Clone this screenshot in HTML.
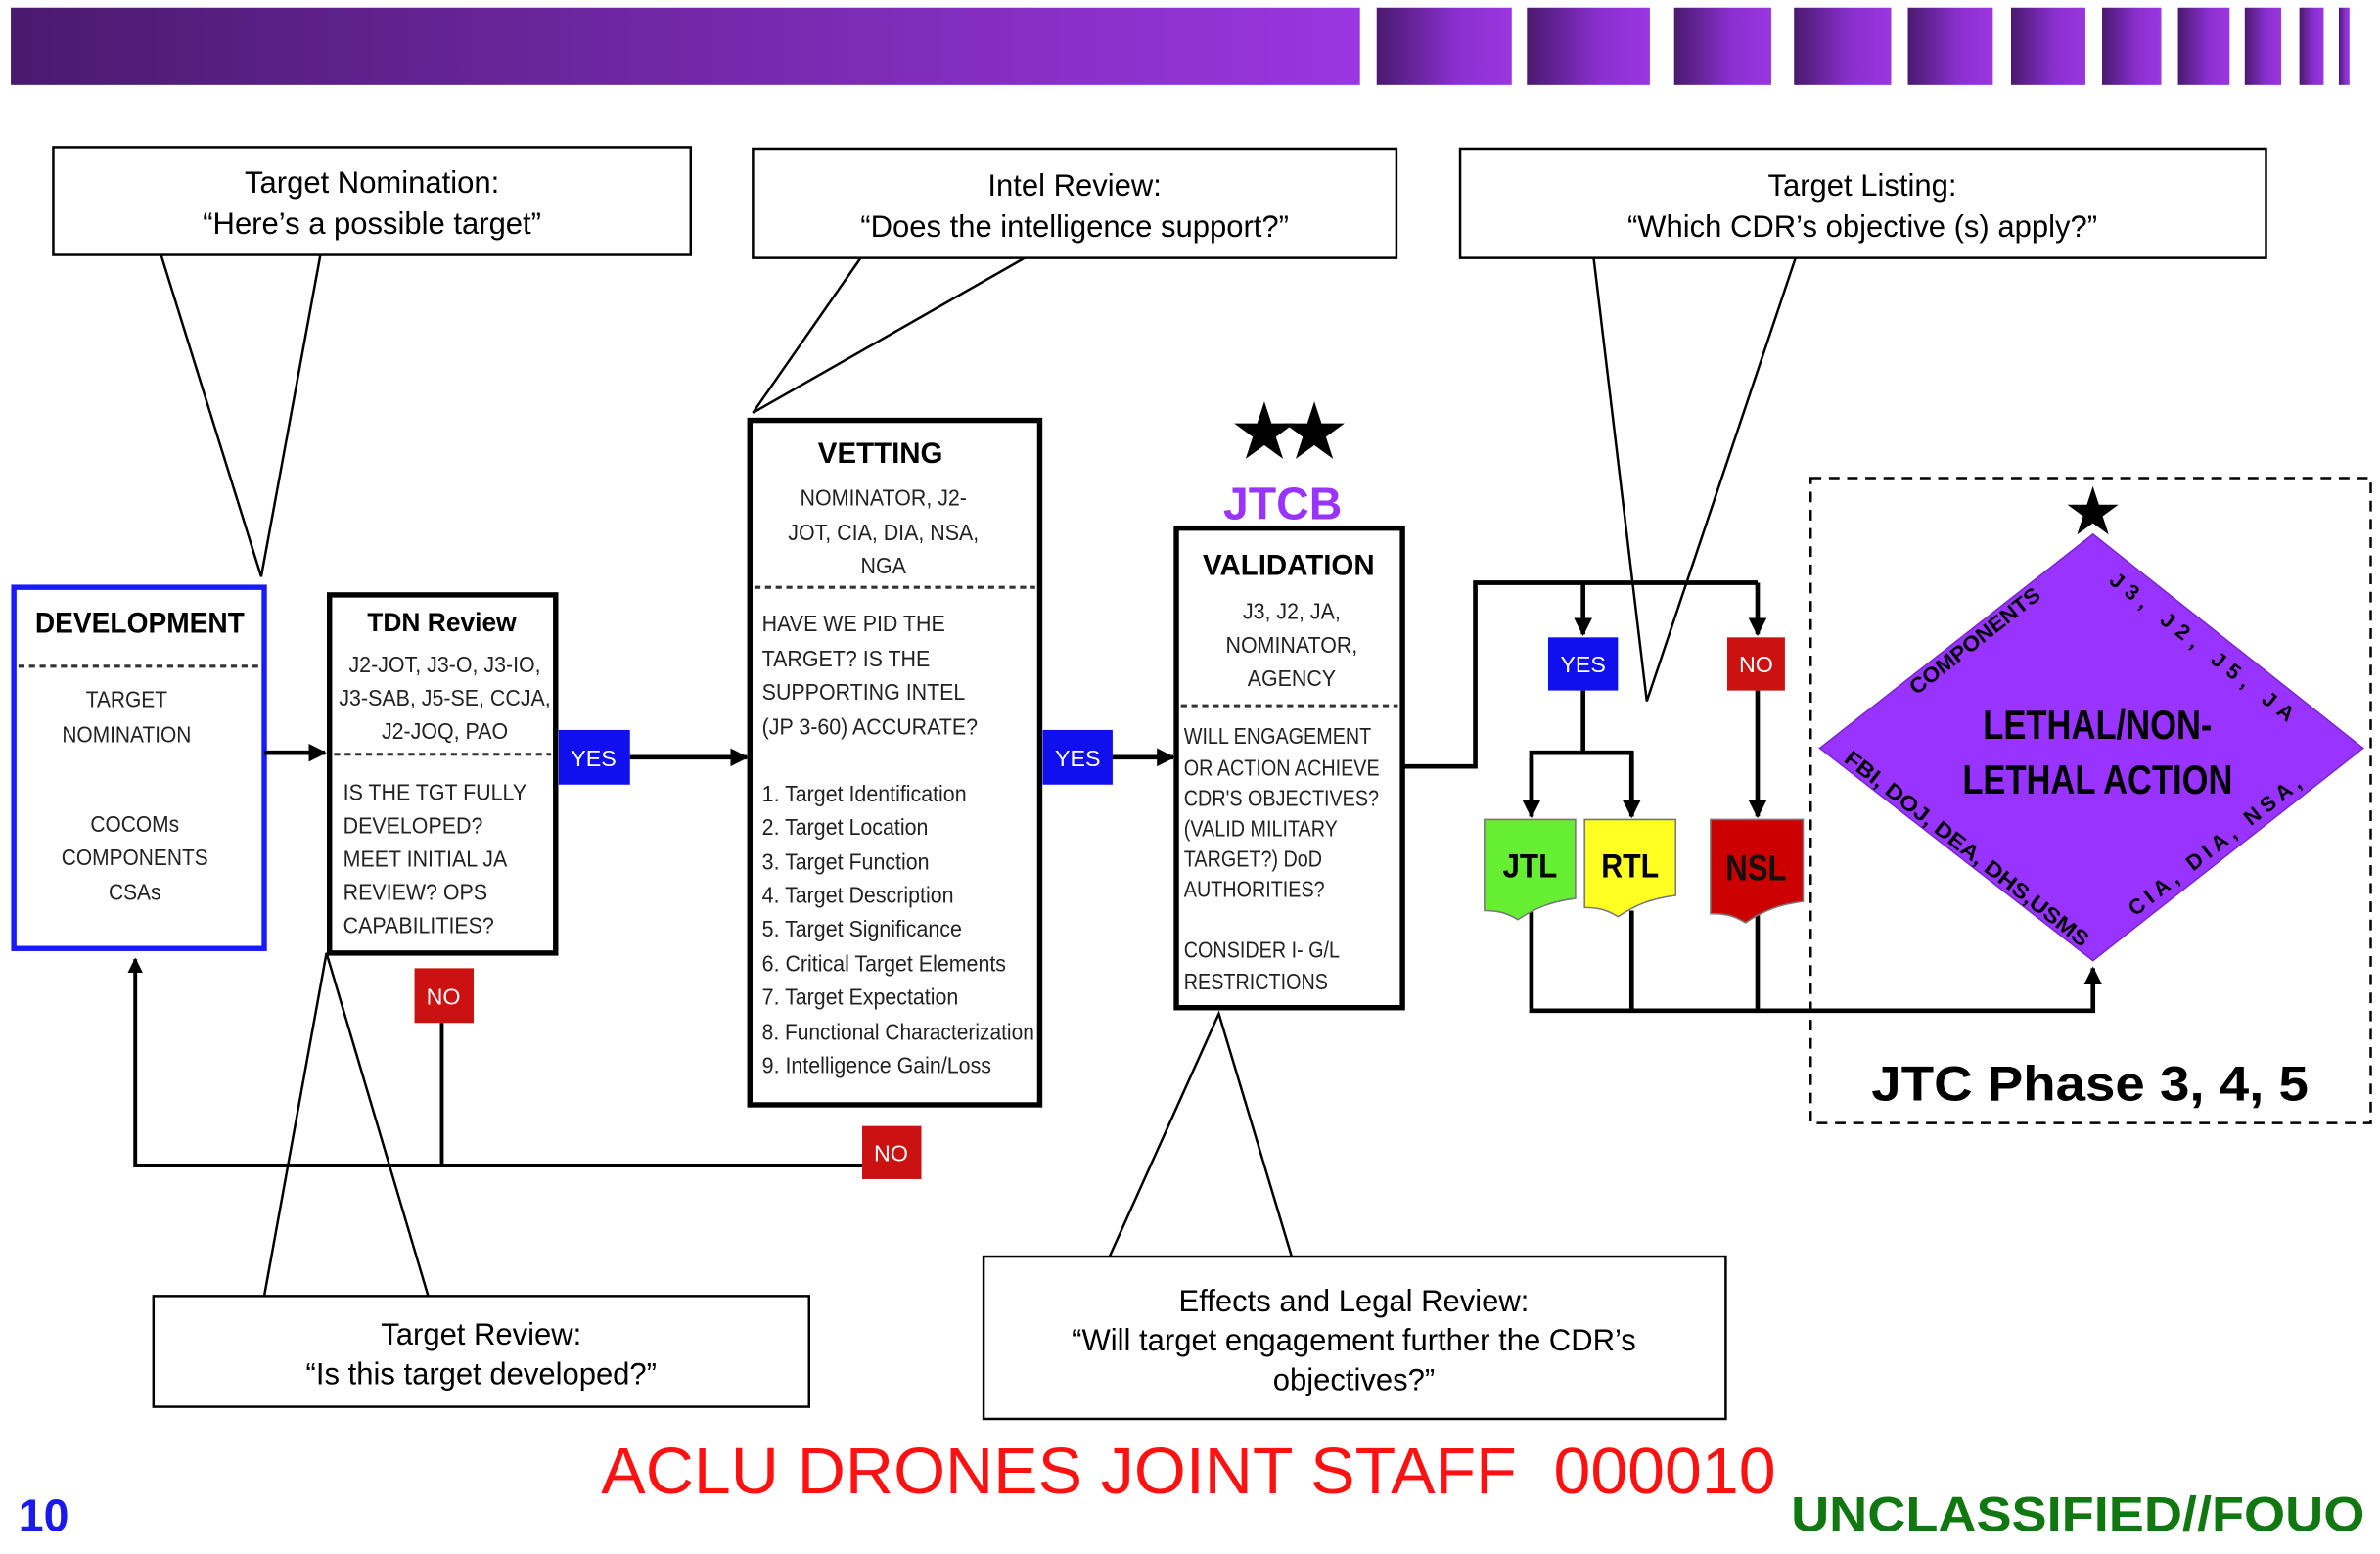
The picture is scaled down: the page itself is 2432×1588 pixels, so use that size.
<!DOCTYPE html>
<html><head><meta charset="utf-8"><style>
html,body{margin:0;padding:0;background:#fff;}
svg{display:block;}
text{font-family:"Liberation Sans",sans-serif;}
.n{font-family:"Liberation Sans Narrow","Liberation Sans",sans-serif;font-size:15px;fill:#222;}
.c{font-size:20px;fill:#000;text-anchor:middle;}
.b{font-family:"Liberation Sans Narrow","Liberation Sans",sans-serif;font-weight:bold;fill:#000;}
.lbl{font-family:"Liberation Sans Narrow","Liberation Sans",sans-serif;font-size:15px;fill:#fff;text-anchor:middle;}
</style></head><body>
<svg width="2432" height="1588" viewBox="0 0 1568 1024" xmlns="http://www.w3.org/2000/svg">
<defs>
<linearGradient id="g1" x1="0" x2="1" y1="0" y2="0"><stop offset="0" stop-color="#4a1a6e"/><stop offset="1" stop-color="#9a36e0"/></linearGradient>
<linearGradient id="g2" x1="0" x2="1" y1="0" y2="0"><stop offset="0" stop-color="#4a1a6e"/><stop offset="0.6" stop-color="#8a30d0"/><stop offset="1" stop-color="#9a36e0"/></linearGradient>
<marker id="ar" viewBox="0 0 10 10" refX="9" refY="5" markerWidth="4" markerHeight="4" orient="auto"><path d="M0,0L10,5L0,10z" fill="#000"/></marker>
</defs>
<rect x="7" y="5" width="889" height="51" fill="url(#g1)"/>
<g fill="url(#g2)">
<rect x="907" y="5" width="89" height="51"/><rect x="1006" y="5" width="81" height="51"/>
<rect x="1103" y="5" width="64" height="51"/><rect x="1182" y="5" width="64" height="51"/>
<rect x="1257" y="5" width="56" height="51"/><rect x="1325" y="5" width="49" height="51"/>
<rect x="1385" y="5" width="39" height="51"/><rect x="1435" y="5" width="34" height="51"/>
<rect x="1479" y="5" width="24" height="51"/><rect x="1515" y="5" width="16" height="51"/>
<rect x="1541" y="5" width="7" height="51"/>
</g>

<g fill="#fff" stroke="#000" stroke-width="1.6">
<rect x="35" y="97" width="420" height="71"/>
<rect x="496" y="98" width="424" height="72"/>
<rect x="962" y="98" width="531" height="72"/>
<rect x="101" y="854" width="432" height="73"/>
<rect x="648" y="828" width="489" height="107"/>
</g>
<g fill="none" stroke="#000" stroke-width="1.6">
<polyline points="106,168 172,380 211,168"/>
<polyline points="567,170 496,272 675,170"/>
<polyline points="1050,170 1085,462 1183,170"/>
<polyline points="174,854 215,628 282,854"/>
<polyline points="731,828 803,668 851,828"/>
</g>
<text class="c" x="245" y="127">Target Nomination:</text>
<text class="c" x="245" y="154">“Here’s a possible target”</text>
<text class="c" x="708" y="129">Intel Review:</text>
<text class="c" x="708" y="156">“Does the intelligence support?”</text>
<text class="c" x="1227" y="129">Target Listing:</text>
<text class="c" x="1227" y="156">“Which CDR’s objective (s) apply?”</text>
<text class="c" x="317" y="886">Target Review:</text>
<text class="c" x="317" y="912">“Is this target developed?”</text>
<text class="c" x="892" y="864">Effects and Legal Review:</text>
<text class="c" x="892" y="890">“Will target engagement further the CDR’s</text>
<text class="c" x="892" y="916">objectives?”</text>

<!-- DEVELOPMENT -->
<rect x="9" y="387" width="165" height="238" fill="#fff" stroke="#1a1aff" stroke-width="3.5"/>
<text class="b" x="92" y="417" font-size="19" text-anchor="middle" textLength="138" lengthAdjust="spacingAndGlyphs">DEVELOPMENT</text>
<line x1="12" y1="439" x2="171" y2="439" stroke="#333" stroke-width="2" stroke-dasharray="4,3"/>
<g transform="translate(86,0) scale(0.9,1) translate(-86,0)">
<text class="n" x="83" y="466" text-anchor="middle">TARGET</text>
<text class="n" x="83" y="489" text-anchor="middle">NOMINATION</text>
<text class="n" x="89" y="548" text-anchor="middle">COCOMs</text>
<text class="n" x="89" y="570" text-anchor="middle">COMPONENTS</text>
<text class="n" x="89" y="593" text-anchor="middle">CSAs</text>
</g>
<line x1="174" y1="496" x2="214" y2="496" stroke="#000" stroke-width="3" marker-end="url(#ar)"/>

<!-- TDN -->
<rect x="217" y="392" width="149" height="236" fill="#fff" stroke="#000" stroke-width="3.5"/>
<text class="b" x="291" y="416" font-size="17" text-anchor="middle" font-family="Liberation Sans">TDN Review</text>
<g transform="translate(293,0) scale(0.92,1) translate(-293,0)">
<text class="n" x="293" y="443" text-anchor="middle">J2-JOT, J3-O, J3-IO,</text>
<text class="n" x="293" y="465" text-anchor="middle">J3-SAB, J5-SE, CCJA,</text>
<text class="n" x="293" y="487" text-anchor="middle">J2-JOQ, PAO</text>
</g>
<line x1="220" y1="497" x2="363" y2="497" stroke="#333" stroke-width="2" stroke-dasharray="4,3"/>
<g transform="translate(226,0) scale(0.92,1) translate(-226,0)">
<text class="n" x="226" y="527">IS THE TGT FULLY</text>
<text class="n" x="226" y="549">DEVELOPED?</text>
<text class="n" x="226" y="571">MEET INITIAL JA</text>
<text class="n" x="226" y="593">REVIEW? OPS</text>
<text class="n" x="226" y="615">CAPABILITIES?</text>
</g>

<rect x="368" y="481" width="47" height="36" fill="#1010ee"/>
<text class="lbl" x="391" y="505">YES</text>
<line x1="415" y1="499" x2="492" y2="499" stroke="#000" stroke-width="3" marker-end="url(#ar)"/>

<rect x="273" y="638" width="39" height="36" fill="#cc1111"/>
<text class="lbl" x="292" y="662">NO</text>
<polyline points="291,674 291,768" fill="none" stroke="#000" stroke-width="2.5"/>
<polyline points="568,768 89,768 89,632" fill="none" stroke="#000" stroke-width="2.5" marker-end="url(#ar)"/>
<rect x="568" y="742" width="39" height="35" fill="#cc1111"/>
<text class="lbl" x="587" y="765">NO</text>

<!-- VETTING -->
<rect x="494" y="277" width="191" height="451" fill="#fff" stroke="#000" stroke-width="3.5"/>
<text class="b" x="580" y="305" font-size="19" text-anchor="middle">VETTING</text>
<g transform="translate(582,0) scale(0.92,1) translate(-582,0)">
<text class="n" x="582" y="333" text-anchor="middle">NOMINATOR, J2-</text>
<text class="n" x="582" y="356" text-anchor="middle">JOT, CIA, DIA, NSA,</text>
<text class="n" x="582" y="378" text-anchor="middle">NGA</text>
</g>
<line x1="497" y1="387" x2="682" y2="387" stroke="#333" stroke-width="2" stroke-dasharray="4,3"/>
<g transform="translate(502,0) scale(0.92,1) translate(-502,0)">
<text class="n" x="502" y="416">HAVE WE PID THE</text>
<text class="n" x="502" y="439">TARGET? IS THE</text>
<text class="n" x="502" y="461">SUPPORTING INTEL</text>
<text class="n" x="502" y="484">(JP 3-60) ACCURATE?</text>
<text class="n" x="502" y="528">1. Target Identification</text>
<text class="n" x="502" y="550">2. Target Location</text>
<text class="n" x="502" y="573">3. Target Function</text>
<text class="n" x="502" y="595">4. Target Description</text>
<text class="n" x="502" y="617">5. Target Significance</text>
<text class="n" x="502" y="640">6. Critical Target Elements</text>
<text class="n" x="502" y="662">7. Target Expectation</text>
<text class="n" x="502" y="685" textLength="195" lengthAdjust="spacingAndGlyphs">8. Functional Characterization</text>
<text class="n" x="502" y="707">9. Intelligence Gain/Loss</text>
</g>

<rect x="687" y="481" width="46" height="36" fill="#1010ee"/>
<text class="lbl" x="710" y="505">YES</text>
<line x1="733" y1="499" x2="773" y2="499" stroke="#000" stroke-width="3" marker-end="url(#ar)"/>

<!-- JTCB -->
<text x="833" y="302" font-size="52" text-anchor="middle" fill="#000">★</text>
<text x="866" y="302" font-size="52" text-anchor="middle" fill="#000">★</text>
<text class="b" x="845" y="342" font-size="30" text-anchor="middle" style="fill:#9933ff">JTCB</text>

<rect x="775" y="348" width="149" height="316" fill="#fff" stroke="#000" stroke-width="3.5"/>
<text class="b" x="849" y="379" font-size="19" text-anchor="middle">VALIDATION</text>
<g transform="translate(851,0) scale(0.92,1) translate(-851,0)">
<text class="n" x="851" y="408" text-anchor="middle">J3, J2, JA,</text>
<text class="n" x="851" y="430" text-anchor="middle">NOMINATOR,</text>
<text class="n" x="851" y="452" text-anchor="middle">AGENCY</text>
</g>
<line x1="778" y1="465" x2="921" y2="465" stroke="#333" stroke-width="2" stroke-dasharray="4,3"/>
<g transform="translate(780,0) scale(0.85,1) translate(-780,0)">
<text class="n" x="780" y="490">WILL ENGAGEMENT</text>
<text class="n" x="780" y="511">OR ACTION ACHIEVE</text>
<text class="n" x="780" y="531">CDR'S OBJECTIVES?</text>
<text class="n" x="780" y="551">(VALID MILITARY</text>
<text class="n" x="780" y="571">TARGET?) DoD</text>
<text class="n" x="780" y="591">AUTHORITIES?</text>
<text class="n" x="780" y="631">CONSIDER I- G/L</text>
<text class="n" x="780" y="652">RESTRICTIONS</text>
</g>

<g fill="none" stroke="#000" stroke-width="3">
<polyline points="924,505 972,505 972,384 1158,384"/>
<line x1="1043" y1="384" x2="1043" y2="418" marker-end="url(#ar)"/>
<line x1="1158" y1="384" x2="1158" y2="418" marker-end="url(#ar)"/>
<polyline points="1043,455 1043,496"/>
<polyline points="1009,538 1009,496 1075,496 1075,538"/>
<line x1="1009" y1="500" x2="1009" y2="538" marker-end="url(#ar)"/>
<line x1="1075" y1="500" x2="1075" y2="538" marker-end="url(#ar)"/>
<line x1="1158" y1="455" x2="1158" y2="538" marker-end="url(#ar)"/>
<polyline points="1009,600 1009,666 1379,666 1379,638" marker-end="url(#ar)"/>
<line x1="1075" y1="600" x2="1075" y2="666"/>
<line x1="1158" y1="600" x2="1158" y2="666"/>
</g>
<rect x="1020" y="420" width="46" height="35" fill="#1010ee"/>
<text class="lbl" x="1043" y="443">YES</text>
<rect x="1138" y="420" width="38" height="35" fill="#cc1111"/>
<text class="lbl" x="1157" y="443">NO</text>

<path d="M978,540 H1038 V592 C1022,594 1012,598 1000,606 C992,601 986,600 978,600 Z" fill="#66ee33" stroke="#777" stroke-width="1"/>
<path d="M1044,540 H1104 V590 C1088,592 1078,596 1066,604 C1058,599 1052,598 1044,598 Z" fill="#ffff22" stroke="#777" stroke-width="1"/>
<path d="M1127,540 H1188 V594 C1172,596 1162,600 1150,608 C1142,603 1136,602 1127,602 Z" fill="#cc0000" stroke="#777" stroke-width="1"/>
<text class="b" x="1008" y="578" font-size="22" text-anchor="middle" textLength="36" lengthAdjust="spacingAndGlyphs">JTL</text>
<text class="b" x="1074" y="578" font-size="22" text-anchor="middle" textLength="38" lengthAdjust="spacingAndGlyphs">RTL</text>
<text class="b" x="1157" y="580" font-size="24" text-anchor="middle" style="fill:#111" textLength="40" lengthAdjust="spacingAndGlyphs">NSL</text>

<rect x="1193" y="315" width="369" height="425" fill="none" stroke="#000" stroke-width="1.6" stroke-dasharray="7,5"/>
<polygon points="1379,352 1557,493 1379,633 1199,493" fill="#9933ff" stroke="#7a28cc" stroke-width="1"/>
<text x="1379" y="352" font-size="44" text-anchor="middle" fill="#000">★</text>
<text class="b" x="1382" y="487" font-size="27" text-anchor="middle" textLength="151" lengthAdjust="spacingAndGlyphs">LETHAL/NON-</text>
<text class="b" x="1382" y="523" font-size="27" text-anchor="middle" textLength="178" lengthAdjust="spacingAndGlyphs">LETHAL ACTION</text>
<g class="b" font-size="14">
<text x="1304" y="426" text-anchor="middle" transform="rotate(-38 1304 426)" font-family="Liberation Sans" textLength="105" lengthAdjust="spacingAndGlyphs">COMPONENTS</text>
<text x="1448" y="430" text-anchor="middle" transform="rotate(38 1448 430)" font-family="Liberation Sans" textLength="150" lengthAdjust="spacing">J3, J2, J5, JA</text>
<text x="1293" y="563" text-anchor="middle" transform="rotate(38 1293 563)" font-family="Liberation Sans" textLength="200" lengthAdjust="spacingAndGlyphs">FBI, DOJ, DEA, DHS,USMS</text>
<text x="1462" y="561" text-anchor="middle" transform="rotate(-38 1462 561)" font-family="Liberation Sans" textLength="140" lengthAdjust="spacing">CIA, DIA, NSA,</text>
</g>
<text x="1377" y="725" font-size="32" font-weight="bold" text-anchor="middle" fill="#000" textLength="288" lengthAdjust="spacingAndGlyphs">JTC Phase 3, 4, 5</text>

<text x="396" y="984" font-size="43" fill="#ff1111" textLength="774" lengthAdjust="spacingAndGlyphs" xml:space="preserve">ACLU DRONES JOINT STAFF  000010</text>
<text x="12" y="1009" font-size="30" font-weight="bold" fill="#1a1aee">10</text>
<text x="1180" y="1009" font-size="32" font-weight="bold" fill="#117711" textLength="378" lengthAdjust="spacingAndGlyphs">UNCLASSIFIED//FOUO</text>
</svg>
</body></html>
